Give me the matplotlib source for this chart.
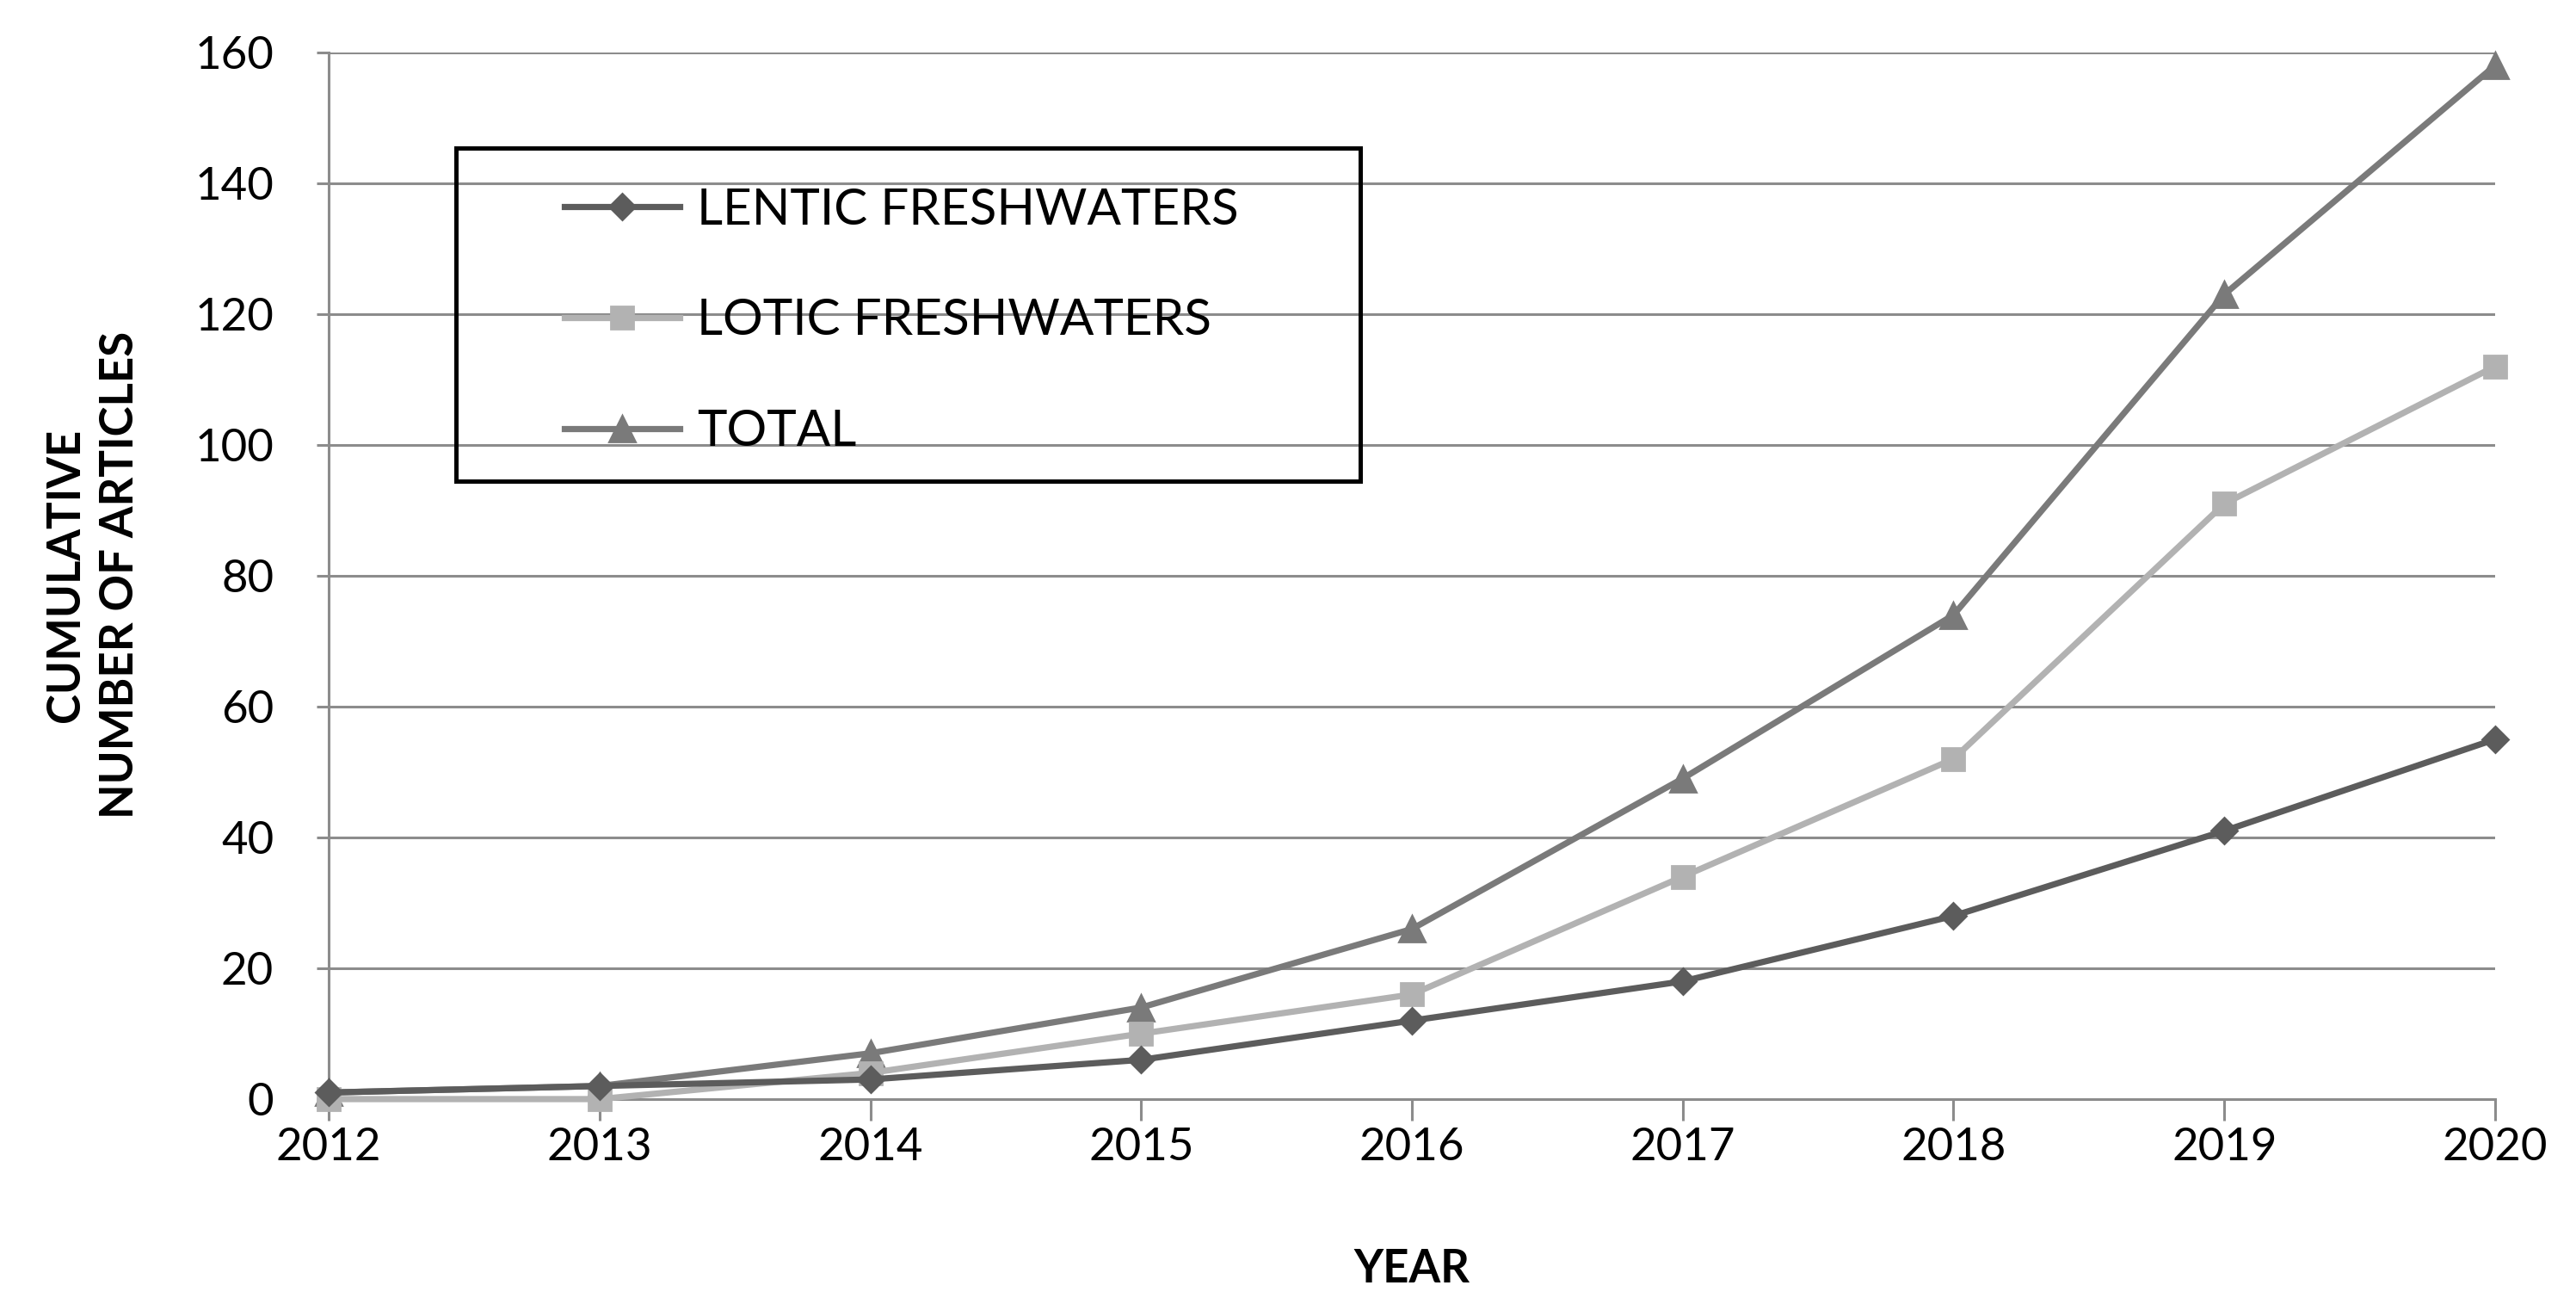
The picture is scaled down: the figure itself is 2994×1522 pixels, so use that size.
import matplotlib
matplotlib.use("Agg")
import matplotlib.pyplot as plt
from matplotlib.patches import Rectangle

plt.rcParams['font.family'] = ['Lato', 'DejaVu Sans']

years = [2012, 2013, 2014, 2015, 2016, 2017, 2018, 2019, 2020]
lentic = [1, 2, 3, 6, 12, 18, 28, 41, 55]
lotic = [0, 0, 4, 10, 16, 34, 52, 91, 112]
total = [1, 2, 7, 14, 26, 49, 74, 123, 158]

fig = plt.figure(figsize=(14.97, 7.61), dpi=200)
ax = fig.add_axes([0.1276, 0.161, 0.841, 0.799])

ax.plot(years, total, color="#7a7a7a", lw=2.6, marker="^", ms=11, label="TOTAL", clip_on=False, zorder=3)
ax.plot(years, lotic, color="#b2b2b2", lw=2.6, marker="s", ms=9.5, label="LOTIC FRESHWATERS", clip_on=False, zorder=4)
ax.plot(years, lentic, color="#5c5c5c", lw=2.6, marker="D", ms=7.5, label="LENTIC FRESHWATERS", clip_on=False, zorder=5)

ax.set_xlim(2012, 2020)
ax.set_ylim(0, 160)
ax.set_xticks(years)
ax.set_yticks(range(0, 161, 20))
ax.yaxis.grid(True, color="#8c8c8c", lw=1.1)
ax.set_axisbelow(True)
for s in ["top", "right"]:
    ax.spines[s].set_visible(False)
for s in ["left", "bottom"]:
    ax.spines[s].set_color("#8c8c8c")
    ax.spines[s].set_linewidth(1.1)
ax.tick_params(axis="x", length=9, width=1.1, color="#8c8c8c", labelsize=19, pad=3)
ax.tick_params(axis="y", length=5, width=1.1, color="#8c8c8c", labelsize=19, pad=18)

fig.text(0.548, 0.031, "YEAR", ha="center", va="center", fontsize=19, fontweight="bold")
fig.text(0.036, 0.561, "CUMULATIVE\nNUMBER OF ARTICLES", ha="center", va="center",
         rotation=90, fontsize=19, fontweight="bold", linespacing=1.35, multialignment="center")

# legend box drawn separately, entries inside
fig.patches.append(Rectangle((0.177, 0.633), 0.351, 0.254, transform=fig.transFigure,
                             fill=False, edgecolor="black", lw=1.8, zorder=6))
h, l = ax.get_legend_handles_labels()
leg = fig.legend(h[::-1], l[::-1], loc="upper left", bbox_to_anchor=(0.219, 0.857),
                 frameon=False, fontsize=21, handlelength=2.3, handletextpad=0.35,
                 labelspacing=1.3, borderpad=0, borderaxespad=0)

fig.savefig("out.png", dpi=200)
